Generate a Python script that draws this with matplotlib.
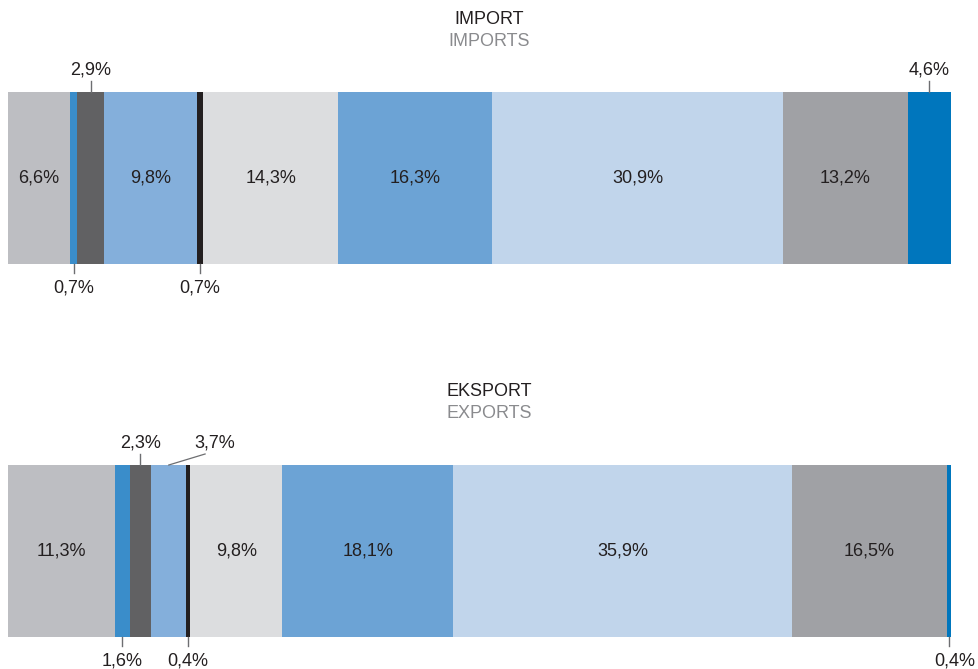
import matplotlib.pyplot as plt
import numpy as np

plt.rcParams['font.family'] = ['Liberation Sans', 'DejaVu Sans']

# shares in percent, left to right
import_vals = [6.6, 0.7, 2.9, 9.8, 0.7, 14.3, 16.3, 30.9, 13.2, 4.6]
export_vals = [11.3, 1.6, 2.3, 3.7, 0.4, 9.8, 18.1, 35.9, 16.5, 0.4]
colors = ['#bdbec2', '#3a8dca', '#616163', '#84afdb', '#231f20',
          '#dcdddf', '#6ca3d5', '#c1d5eb', '#a0a1a5', '#0076bd']

# where the label goes: 'in' = inside, 'up' / 'down' = outside with a leader
import_pos = ['in', 'down', 'up', 'in', 'down', 'in', 'in', 'in', 'in', 'up']
export_pos = ['in', 'down', 'up', 'slant', 'down', 'in', 'in', 'in', 'in', 'down']

txt_col = '#231f20'
line_col = '#6d6e71'
fs = 13

fig = plt.figure(figsize=(9.79, 6.69), dpi=100)
ax = fig.add_axes([8 / 979, 0, 943 / 979, 1])
ax.set_xlim(0, 100)
ax.set_ylim(669, 0)
ax.axis('off')


def fmt(v):
    return f'{v:.1f}'.replace('.', ',') + '%'


def draw_bar(vals, pos, y0, y1, title, subtitle, ty):
    yc = (y0 + y1) / 2
    h = y1 - y0
    left = np.concatenate([[0], np.cumsum(vals)[:-1]])
    ax.barh(yc, vals, left=left, height=h, color=colors, edgecolor='none')
    for v, l, p in zip(vals, left, pos):
        xc = l + v / 2
        if p == 'in':
            ax.text(xc, yc, fmt(v), ha='center', va='center', fontsize=fs, color=txt_col)
        elif p == 'up':
            ax.plot([xc, xc], [y0 - 11, y0], color=line_col, lw=1)
            ax.text(xc, y0 - 22, fmt(v), ha='center', va='center', fontsize=fs, color=txt_col)
        elif p == 'slant':
            ax.plot([xc, xc + 3.85], [y0, y0 - 11], color=line_col, lw=0.9)
            ax.text(xc + 4.9, y0 - 22, fmt(v), ha='center', va='center', fontsize=fs, color=txt_col)
        else:
            ax.plot([xc, xc], [y1, y1 + 9], color=line_col, lw=1)
            dx = 0.6 if xc > 99 else 0
            ax.text(xc + dx, y1 + 24, fmt(v), ha='center', va='center', fontsize=fs, color=txt_col)
    fig.text(0.5, 1 - ty / 669, title, ha='center', va='center', fontsize=fs, color=txt_col)
    fig.text(0.5, 1 - (ty + 22) / 669, subtitle, ha='center', va='center', fontsize=fs, color='#8a8b8e')


draw_bar(import_vals, import_pos, 92, 264, 'IMPORT', 'IMPORTS', 19)
draw_bar(export_vals, export_pos, 465, 637, 'EKSPORT', 'EXPORTS', 392)

fig.savefig('out.png', dpi=100)
